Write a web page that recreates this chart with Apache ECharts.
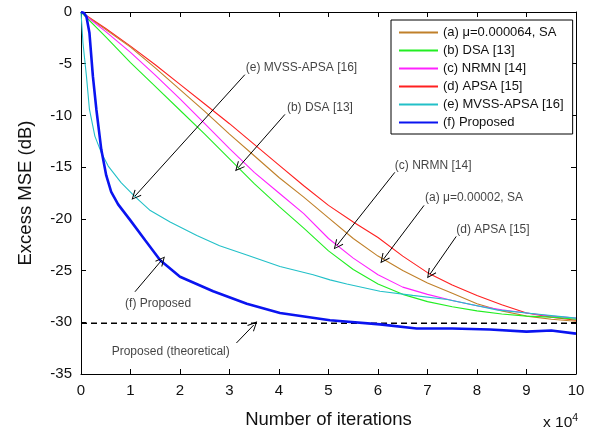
<!DOCTYPE html>
<html>
<head>
<meta charset="utf-8">
<script src="https://cdn.jsdelivr.net/npm/echarts@6/dist/echarts.min.js"></script>
<style>html,body{margin:0;padding:0;background:#fff}#c{width:596px;height:434px}</style>
</head>
<body>
<div id="c"></div>
<script>
// x in units of 10^4 iterations, y in dB
var xTicks = [0,1,2,3,4,5,6,7,8,9,10];
var yTicks = [0,-5,-10,-15,-20,-25,-30,-35];

var seriesNames = ['(a) μ=0.000064, SA','(b) DSA [13]','(c) NRMN [14]','(d) APSA [15]','(e) MVSS-APSA [16]','(f) Proposed'];

var slowX = [0,0.5,1,1.5,2,2.5,3,3.5,4,4.5,5,5.5,6,6.5,7,7.5,8,8.5,9,9.5,10];
var curveA = [0,-1.7,-3.4,-5.4,-7.5,-9.6,-11.8,-13.9,-16.0,-17.9,-19.9,-21.9,-23.6,-25.0,-26.2,-27.2,-28.2,-28.9,-29.4,-29.7,-29.9];
var curveB = [0,-2.4,-4.9,-7.2,-9.5,-11.8,-14.2,-16.6,-18.8,-20.9,-23.1,-24.9,-26.3,-27.3,-28.0,-28.5,-28.9,-29.2,-29.4,-29.5,-29.7];
var curveC = [0,-1.9,-3.9,-6.1,-8.4,-10.8,-13.2,-15.5,-17.5,-19.5,-21.9,-23.8,-25.4,-26.6,-27.3,-27.9,-28.4,-28.8,-29.1,-29.4,-29.6];
var curveD = [0,-1.6,-3.3,-5.1,-7.0,-8.9,-10.8,-12.8,-14.8,-16.8,-18.7,-20.3,-21.8,-23.6,-25.2,-26.4,-27.4,-28.3,-29.1,-29.5,-29.8];

var curveEX = [0,0.04,0.11,0.17,0.28,0.41,0.55,0.81,1.08,1.4,1.8,2.34,2.8,3.35,4.02,4.69,5.03,5.37,6.04,6.7,7.4,8.4,9.2,10];
var curveEY = [0,-3.0,-6.2,-9.4,-12.0,-13.6,-14.9,-16.5,-17.8,-19.2,-20.3,-21.6,-22.6,-23.5,-24.6,-25.4,-25.9,-26.3,-27.0,-27.4,-27.8,-28.8,-29.2,-29.6];

var curveFX = [0,0.06,0.11,0.17,0.24,0.31,0.41,0.51,0.61,0.75,0.99,1.3,1.6,2.0,2.67,3.35,4.02,5.03,6.04,6.78,7.5,8.26,9.0,9.5,10];
var curveFY = [0,-0.1,-0.45,-2.0,-6.2,-9.4,-13.3,-15.8,-17.4,-18.6,-20.1,-22.1,-24.0,-25.6,-27.0,-28.2,-29.1,-29.8,-30.2,-30.6,-30.6,-30.7,-30.9,-30.8,-31.1];

var theoryX = [0,10];
var theoryY = [-30.1,-30.1];

var noteTexts = ['(e) MVSS-APSA [16]','(b) DSA [13]','(c) NRMN [14]','(a) μ=0.00002, SA','(d) APSA [15]','(f) Proposed','Proposed (theoretical)'];
var noteTextX = [3.33,4.16,6.34,6.95,7.58,0.89,0.62];
var noteTextY = [-5.4,-9.26,-14.9,-18.0,-21.0,-28.2,-32.8];
var arrowFromX = [3.31,4.12,6.34,6.93,7.58,1.09,3.14];
var arrowFromY = [-6.06,-9.9,-15.5,-18.7,-21.7,-27.05,-32.0];
var arrowToX = [1.09,3.18,5.17,6.11,7.05,1.63,3.49];
var arrowToY = [-17.8,-15.03,-22.57,-23.9,-25.35,-24.0,-30.26];

var colors = ['#C0802A','#22EE22','#FF22FF','#FF2020','#22C0C8','#0A14F0'];

function zip(xs, ys){ return xs.map(function(x,i){ return [x, ys[i]]; }); }

var FONT = '"Liberation Sans", Arial, sans-serif';

var chart = echarts.init(document.getElementById('c'), null, {renderer:'canvas'});

function lineSeries(name, data, color, width){
  return {name:name, type:'line', data:data, symbol:'none', showSymbol:false,
    lineStyle:{color:color, width:width}, itemStyle:{color:color},
    silent:true, animation:false, xAxisIndex:0, yAxisIndex:0};
}

var series = [
  lineSeries(seriesNames[3], zip(slowX, curveD), colors[3], 1.1),
  lineSeries(seriesNames[0], zip(slowX, curveA), colors[0], 1.1),
  lineSeries(seriesNames[2], zip(slowX, curveC), colors[2], 1.1),
  lineSeries(seriesNames[1], zip(slowX, curveB), colors[1], 1.1),
  lineSeries(seriesNames[4], zip(curveEX, curveEY), colors[4], 1.1),
  {name:'theory', type:'line', data:zip(theoryX, theoryY), symbol:'none', silent:true, animation:false,
   lineStyle:{color:'#000', width:1.6, type:[6,4]}},
  lineSeries(seriesNames[5], zip(curveFX, curveFY), colors[5], 2.6),
  {name:'notes', type:'scatter', silent:true, animation:false, symbolSize:0,
   data: noteTexts.map(function(t,i){ return [noteTextX[i], noteTextY[i], t]; }),
   label:{show:true, position:'right', distance:0, color:'#111', fontFamily:FONT, fontSize:12,
     formatter:function(p){ return p.value[2]; }},
   markLine:{silent:true, animation:false,
     symbol:['none','path://M0,0 L5,9.4 L4.1,10 L0,2.2 L-4.1,10 L-5,9.4 Z'], symbolSize:[9,10],
     lineStyle:{color:'#000', width:1, type:'solid'}, label:{show:false},
     data: noteTexts.map(function(t,i){ return [{coord:[arrowFromX[i], arrowFromY[i]]},{coord:[arrowToX[i], arrowToY[i]]}]; })
   }
  }
];

var axisCommon = {
  axisLine:{show:true, onZero:false, lineStyle:{color:'#000', width:1}},
  axisTick:{show:true, inside:true, length:5, lineStyle:{color:'#000'}},
  splitLine:{show:false}
};

chart.setOption({
  animation:false,
  backgroundColor:'#fff',
  grid:{left:81, right:20, top:12, bottom:58},
  legend:{
    data: seriesNames, left:391, top:20, orient:'vertical',
    padding:[6,9,5,7], itemWidth:39, itemHeight:13.5, itemGap:5,
    borderColor:'#000', borderWidth:1, backgroundColor:'#fff',
    itemStyle:{opacity:0},
    textStyle:{fontFamily:FONT, fontSize:13, color:'#111'},
    selectedMode:false
  },
  xAxis:[
    Object.assign({type:'value', min:xTicks[0], max:xTicks[xTicks.length-1], interval:1, position:'bottom',
      name:'Number of iterations', nameLocation:'middle', nameGap:36,
      nameTextStyle:{fontFamily:FONT, fontSize:18.5, color:'#111'},
      axisLabel:{fontFamily:FONT, fontSize:15, color:'#111', margin:9}}, axisCommon),
    Object.assign({type:'value', min:xTicks[0], max:xTicks[xTicks.length-1], interval:1, position:'top',
      axisLabel:{show:false}}, axisCommon)
  ],
  yAxis:[
    Object.assign({type:'value', min:yTicks[yTicks.length-1], max:yTicks[0], interval:5, position:'left',
      name:'Excess MSE (dB)', nameLocation:'middle', nameGap:46, nameRotate:90,
      nameTextStyle:{fontFamily:FONT, fontSize:18.5, color:'#111'},
      axisLabel:{fontFamily:FONT, fontSize:15, color:'#111', margin:9}}, axisCommon),
    Object.assign({type:'value', min:yTicks[yTicks.length-1], max:yTicks[0], interval:5, position:'right',
      axisLabel:{show:false}}, axisCommon)
  ],
  graphic:[{type:'text', left:543, top:413, silent:true,
    style:{text:'x 10{s|4}', fontFamily:FONT, fontSize:15.5, fill:'#111',
      rich:{s:{fontFamily:FONT, fontSize:10.5, verticalAlign:'top', padding:[0,0,8,0]}}}}],
  series: series
});
</script>
</body>
</html>
